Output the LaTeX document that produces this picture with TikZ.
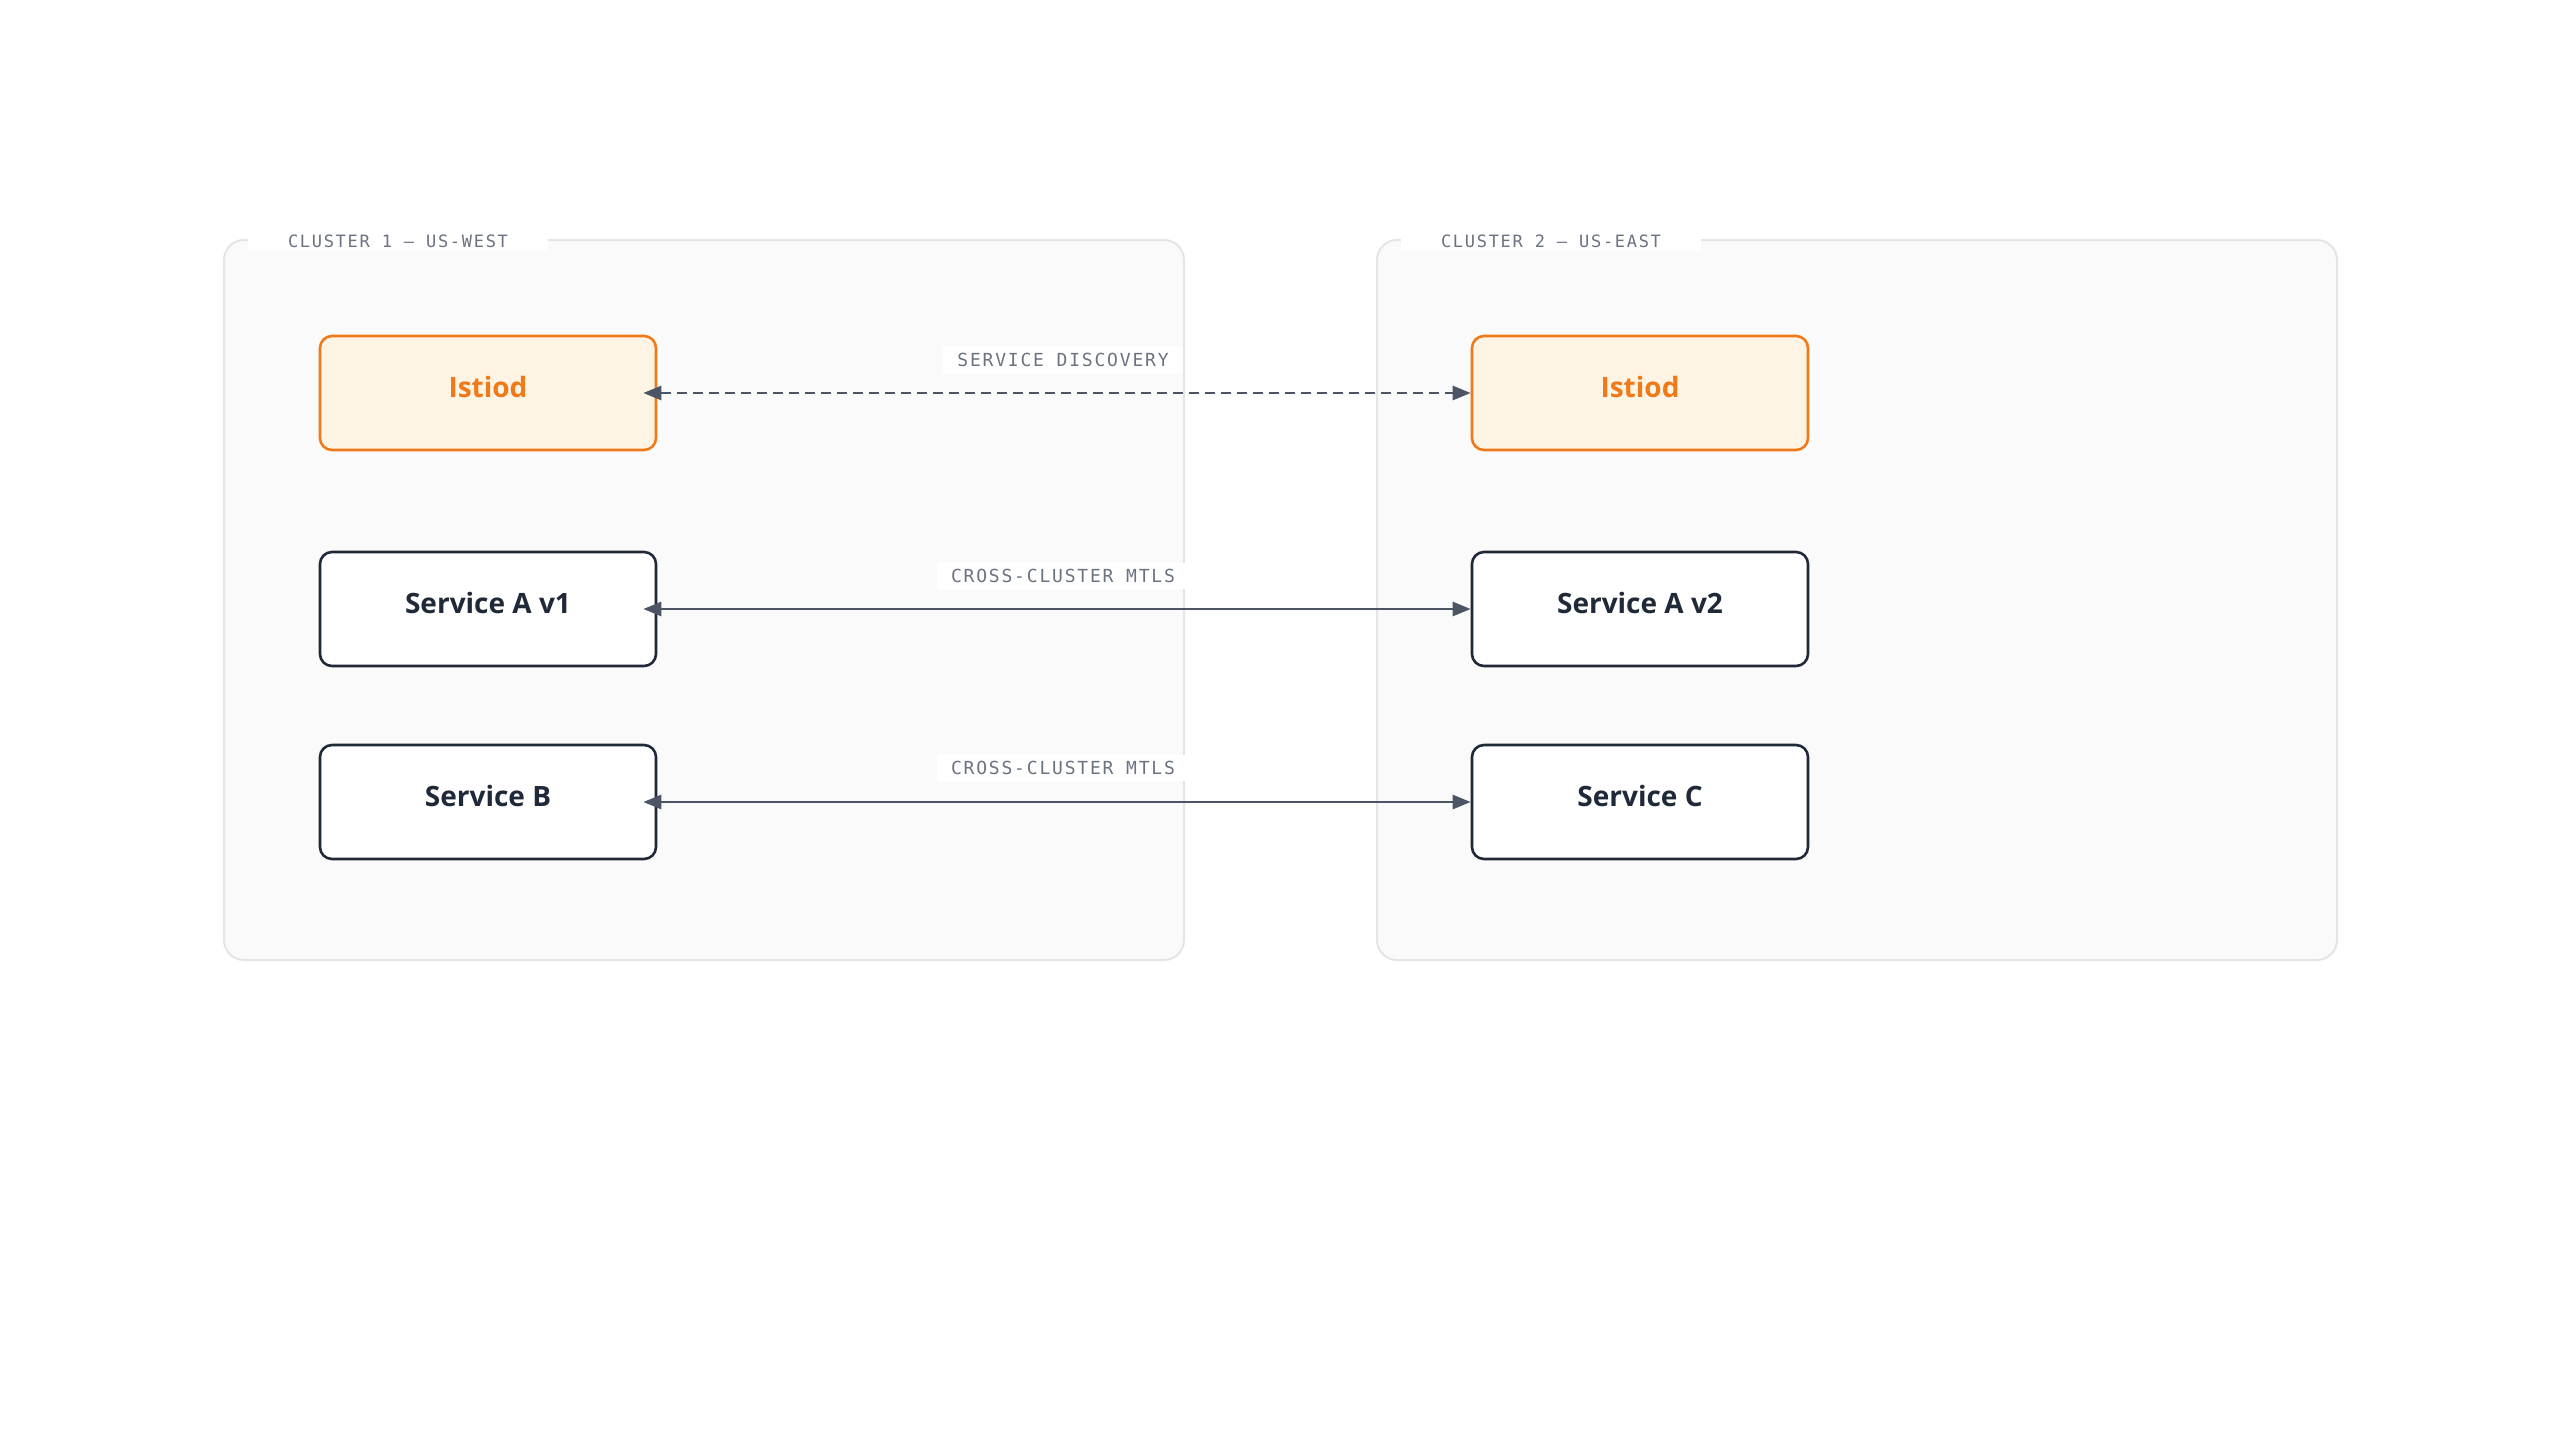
\documentclass[tikz,border=0pt]{standalone}
\usepackage{fontspec}
\setmainfont{Open Sans}
\newfontfamily\labfont[LetterSpace=10]{DejaVu Sans Mono}
\usetikzlibrary{arrows.meta}
\definecolor{orng}{HTML}{F07A1A}
\definecolor{orngfill}{HTML}{FEF4E4}
\definecolor{dark}{HTML}{1F2937}
\definecolor{gline}{HTML}{4B5563}
\definecolor{glabel}{HTML}{6B7280}
\definecolor{cfill}{HTML}{FAFAFA}
\definecolor{cline}{HTML}{E5E5E5}
\begin{document}
\begin{tikzpicture}[x=1pt,y=-1pt,
 cluster/.style={draw=cline,fill=cfill,line width=2pt,rounded corners=20pt},
 box/.style={draw=dark,fill=white,line width=2.6pt,rounded corners=12pt,minimum width=336pt,minimum height=114pt,text depth=10pt,text height=18pt,font=\fontsize{28}{34}\selectfont\bfseries,text=dark},
 ist/.style={box,draw=orng,fill=orngfill,text=orng},
 clab/.style={fill=white,inner xsep=40pt,inner ysep=4pt,font=\labfont\fontsize{17}{20}\selectfont,text=glabel},
 elab/.style={fill=white,inner xsep=14pt,inner ysep=6pt,font=\labfont\fontsize{18}{22}\selectfont,text=glabel},
 conn/.style={draw=gline,line width=2.6pt,shorten <=-14pt,{Triangle[length=18pt,width=14pt]}-{Triangle[length=18pt,width=14pt]}}]
\useasboundingbox (0,0) rectangle (2560,1440);
\fill[white] (0,0) rectangle (2560,1440);
\draw[cluster] (224,240) rectangle (1184,960);
\draw[cluster] (1377,240) rectangle (2337,960);
\node[clab] (c1) at (398,241) {CLUSTER 1 — US-WEST};
\node[clab] (c2) at (1551,241) {CLUSTER 2 — US-EAST};
\node[ist] (i1) at (488,393) {Istiod};
\node[ist] (i2) at (1640,393) {Istiod};
\node[box] (a1) at (488,609) {Service A v1};
\node[box] (a2) at (1640,609) {Service A v2};
\node[box] (b) at (488,802) {Service B};
\node[box] (c) at (1640,802) {Service C};
\draw[conn,dash pattern=on 10pt off 6pt] (i1) -- (i2);
\draw[conn] (a1) -- (a2);
\draw[conn] (b) -- (c);
\node[elab] (l1) at (1063,360) {SERVICE DISCOVERY};
\node[elab] (l2) at (1063,576) {CROSS-CLUSTER MTLS};
\node[elab] (l3) at (1063,768) {CROSS-CLUSTER MTLS};
\end{tikzpicture}
\end{document}
